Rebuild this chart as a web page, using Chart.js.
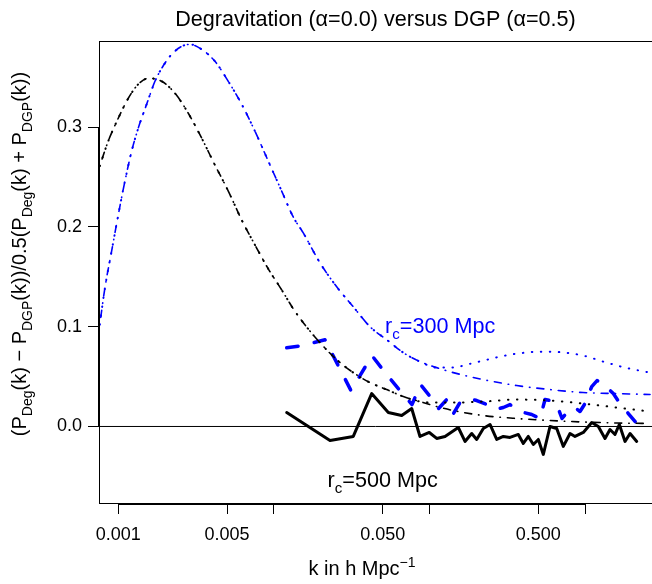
<!DOCTYPE html>
<html>
<head>
<meta charset="utf-8">
<script src="https://cdn.jsdelivr.net/npm/chart.js@4.4.0/dist/chart.umd.min.js"></script>
<style>
  html, body { margin: 0; padding: 0; background: #fff; overflow: hidden; }
  canvas { display: block; }
</style>
</head>
<body>
<canvas id="powerChart" width="652" height="584"></canvas>
<script>
// k grid (h/Mpc) of the smooth linear-theory curves
var kDeg = [0.00076, 0.000862, 0.001, 0.00116, 0.001344, 0.001559, 0.001901, 0.002314, 0.002818, 0.003436, 0.004183,
    0.005093, 0.00621, 0.007558, 0.009204, 0.01122, 0.01332, 0.01545, 0.01979, 0.02533, 0.03237, 0.04146, 0.05309,
    0.06786, 0.08688, 0.1112, 0.1422, 0.2217, 0.3634, 0.5948, 0.9694, 1.596, 2.613];
var degDashDot = [0.261, 0.286, 0.309, 0.329, 0.343, 0.349, 0.346, 0.334, 0.314, 0.289, 0.262,
    0.236, 0.207, 0.182, 0.158, 0.137, 0.118, 0.104, 0.084, 0.067, 0.054, 0.044, 0.037,
    0.030, 0.025, 0.020, 0.016, 0.011, 0.008, 0.006, 0.0045, 0.0035, 0.003];
var degDotted = [0.261, 0.286, 0.309, 0.329, 0.343, 0.349, 0.346, 0.334, 0.314, 0.289, 0.262,
    0.236, 0.207, 0.182, 0.158, 0.137, 0.118, 0.104, 0.084, 0.067, 0.054, 0.044, 0.037,
    0.030, 0.025, 0.024, 0.024, 0.025, 0.027, 0.026, 0.023, 0.019, 0.015];

var kDgp = [0.00076, 0.000821, 0.000907, 0.001, 0.001104, 0.001219, 0.001344, 0.001522, 0.001721, 0.001901, 0.002204,
    0.002556, 0.002889, 0.003436, 0.004183, 0.005093, 0.00621, 0.007558, 0.009204, 0.01122, 0.01332, 0.01545,
    0.01979, 0.02533, 0.03237, 0.04146, 0.05309, 0.06786, 0.08688, 0.1112, 0.1422, 0.2217, 0.3634, 0.5948,
    0.9694, 1.596, 2.613];
var dgpDashDot = [0.102, 0.139, 0.176, 0.212, 0.246, 0.276, 0.299, 0.323, 0.346, 0.359, 0.373,
    0.381, 0.383, 0.378, 0.366, 0.346, 0.323, 0.296, 0.266, 0.236, 0.210, 0.194,
    0.164, 0.140, 0.120, 0.100, 0.087, 0.074, 0.065, 0.059, 0.054, 0.047, 0.041, 0.037,
    0.034, 0.033, 0.032];
var kDgpDot = [0.00076, 0.000821, 0.000907, 0.001, 0.001104, 0.001219, 0.001344, 0.001522, 0.001721, 0.001901, 0.002204,
    0.002556, 0.002889, 0.003436, 0.004183, 0.005093, 0.00621, 0.007558, 0.009204, 0.01122, 0.01332, 0.01545,
    0.01979, 0.02533, 0.03237, 0.04146, 0.05309, 0.06786, 0.08688, 0.1112, 0.1422, 0.1734, 0.2217, 0.2838,
    0.3634, 0.5129, 0.6899, 0.9736, 1.376, 1.851, 2.613];
var dgpDotted = [0.102, 0.139, 0.176, 0.212, 0.246, 0.276, 0.299, 0.323, 0.346, 0.359, 0.373,
    0.381, 0.383, 0.378, 0.366, 0.346, 0.323, 0.296, 0.266, 0.236, 0.210, 0.194,
    0.164, 0.140, 0.120, 0.100, 0.087, 0.074, 0.065, 0.059, 0.059, 0.062, 0.066, 0.070,
    0.073, 0.075, 0.0745, 0.071, 0.064, 0.0586, 0.054];

// simulation results, r_c = 300 Mpc (blue dashed)
var kRc300 = [0.01209, 0.01509, 0.0213, 0.0313, 0.0427, 0.05436, 0.06627, 0.0772, 0.08752, 0.0997, 0.1143, 0.129,
    0.1426, 0.157, 0.1776, 0.2011, 0.2331, 0.2636, 0.2981, 0.3291, 0.3634, 0.4048, 0.4538, 0.5131, 0.5525, 0.5948,
    0.6569, 0.7104, 0.7998, 0.874, 0.9272, 0.9984, 1.103, 1.193, 1.303, 1.518, 1.676, 1.895, 2.146];
var rc300 = [0.079, 0.081, 0.087, 0.036, 0.071, 0.050, 0.034, 0.022, 0.042, 0.031, 0.018, 0.027,
    0.013, 0.024, 0.028, 0.026, 0.022, 0.017, 0.019, 0.022, 0.017, 0.014, 0.012, 0.008, 0.027, 0.026,
    0.022, 0.008, 0.018, 0.018, 0.015, 0.023, 0.040, 0.046, 0.043, 0.033, 0.023, 0.013, 0.003];

// simulation results, r_c = 500 Mpc (black solid)
var kRc500 = [0.01209, 0.02294, 0.03237, 0.04251, 0.05436, 0.06627, 0.07685, 0.08688, 0.0997, 0.1112, 0.1258,
    0.1531, 0.1691, 0.1867, 0.2011, 0.2217, 0.2448, 0.2703, 0.2981, 0.3291, 0.3722, 0.4006, 0.4315, 0.4648,
    0.5004, 0.5388, 0.5948, 0.6569, 0.7243, 0.7998, 0.8612, 0.9736, 1.103, 1.216, 1.342, 1.445, 1.556, 1.659,
    1.805, 1.944, 2.146];
var rc500 = [0.014, -0.014, -0.010, 0.033, 0.014, 0.011, 0.018, -0.010, -0.006, -0.012, -0.010,
    -0.001, -0.015, -0.007, -0.013, -0.002, 0.002, -0.013, -0.010, -0.011, -0.008, -0.017, -0.010, -0.018,
    -0.013, -0.028, 0.000, -0.002, -0.020, -0.007, -0.010, -0.006, 0.004, 0.000, -0.012, -0.003, -0.008, 0.002,
    -0.015, -0.007, -0.015];

// axes
var xMin = 0.000752, xMax = 2.69;
var yMin = -0.0767, yMax = 0.3864;
var xTickVals = [0.001, 0.005, 0.01, 0.05, 0.1, 0.5, 1];
var xTickText = ['0.001', '0.005', '', '0.050', '', '0.500', ''];
var yTickVals = [0, 0.1, 0.2, 0.3];
var yTickText = ['0.0', '0.1', '0.2', '0.3'];

// texts ([string, 0 normal / 1 subscript / 2 superscript])
var titleText = 'Degravitation (\u03b1=0.0) versus DGP (\u03b1=0.5)';
var xLabelParts = [['k in h Mpc', 0], ['\u22121', 2]];
var yLabelParts = [['(P', 0], ['Deg', 1], ['(k) \u2212 P', 0], ['DGP', 1], ['(k))/0.5(P', 0], ['Deg', 1],
    ['(k) + P', 0], ['DGP', 1], ['(k))', 0]];
var label300 = [['r', 0], ['c', 1], ['=300 Mpc', 0]];
var label500 = [['r', 0], ['c', 1], ['=500 Mpc', 0]];

var FONT = "'Liberation Sans', Arial, Helvetica, sans-serif";

function pts(ks, vs) {
    return ks.map(function(k, i) { return {x: k, y: vs[i]}; });
}

function drawRich(c, parts, x, y, size, align) {
    var w = 0;
    parts.forEach(function(p) {
        c.font = (p[1] === 0 ? size : size * 0.7) + 'px ' + FONT;
        w += c.measureText(p[0]).width;
    });
    var cx = align === 'center' ? x - w / 2 : x;
    c.textAlign = 'left';
    c.textBaseline = 'alphabetic';
    parts.forEach(function(p) {
        var s = p[1] === 0 ? size : size * 0.7;
        var dy = p[1] === 1 ? size * 0.28 : (p[1] === 2 ? -size * 0.42 : 0);
        c.font = s + 'px ' + FONT;
        c.fillText(p[0], cx, y + dy);
        cx += c.measureText(p[0]).width;
    });
}

// box, titles and the r_c notes
var decor = {
    id: 'decor',
    afterDraw: function(chart) {
        var c = chart.ctx, a = chart.chartArea;
        var sx = chart.scales.x, sy = chart.scales.y;
        c.save();
        c.strokeStyle = '#000';
        c.lineWidth = 1;
        c.strokeRect(a.left + 0.5, a.top + 0.5, a.right - a.left + 10, a.bottom - a.top);
        // axis lines between first and last tick
        c.beginPath();
        c.moveTo(a.left - 0.5, sy.getPixelForValue(0));
        c.lineTo(a.left - 0.5, sy.getPixelForValue(0.3));
        c.moveTo(sx.getPixelForValue(0.001), a.bottom + 1.5);
        c.lineTo(sx.getPixelForValue(1), a.bottom + 1.5);
        c.stroke();

        c.fillStyle = '#000';
        c.font = '21.6px ' + FONT;
        c.textAlign = 'center';
        c.textBaseline = 'alphabetic';
        c.fillText(titleText, (a.left + a.right) / 2, 26);

        drawRich(c, xLabelParts, 362, 575, 20, 'center');

        c.save();
        c.translate(26, 254);
        c.rotate(-Math.PI / 2);
        drawRich(c, yLabelParts, 0, 0, 20, 'center');
        c.restore();

        c.fillStyle = '#0000ff';
        drawRich(c, label300, sx.getPixelForValue(0.117), sy.getPixelForValue(0.101) + 7.7, 21.6, 'center');
        c.fillStyle = '#000';
        drawRich(c, label500, sx.getPixelForValue(0.05), sy.getPixelForValue(-0.053) + 7.7, 21.6, 'center');
        c.restore();
    }
};

var dotDash = [0.5, 7, 7, 7];
var dotted = [0.5, 8.5];

var ctx = document.getElementById('powerChart').getContext('2d');
var chart = new Chart(ctx, {
    type: 'line',
    data: {
        datasets: [{
            label: 'Degravitation linear',
            data: pts(kDeg, degDashDot),
            borderColor: '#000', borderWidth: 1.6, borderDash: dotDash, borderCapStyle: 'round',
            cubicInterpolationMode: 'monotone'
        }, {
            label: 'Degravitation linear 2',
            data: pts(kDeg, degDotted),
            borderColor: '#000', borderWidth: 2, borderDash: dotted, borderCapStyle: 'round',
            cubicInterpolationMode: 'monotone'
        }, {
            label: 'DGP linear',
            data: pts(kDgp, dgpDashDot),
            borderColor: '#0000ff', borderWidth: 1.6, borderDash: dotDash, borderCapStyle: 'round',
            cubicInterpolationMode: 'monotone'
        }, {
            label: 'DGP linear 2',
            data: pts(kDgpDot, dgpDotted),
            borderColor: '#0000ff', borderWidth: 2, borderDash: dotted, borderCapStyle: 'round',
            cubicInterpolationMode: 'monotone'
        }, {
            label: 'r_c=300 Mpc',
            data: pts(kRc300, rc300),
            borderColor: '#0000ff', borderWidth: 3.5, borderDash: [11.5, 16.5],
            borderCapStyle: 'round', borderJoinStyle: 'round'
        }, {
            label: 'r_c=500 Mpc',
            data: pts(kRc500, rc500),
            borderColor: '#000', borderWidth: 3,
            borderCapStyle: 'round', borderJoinStyle: 'round'
        }, {
            label: 'zero',
            data: [{x: xMin, y: 0}, {x: xMax, y: 0}],
            borderColor: '#000', borderWidth: 1
        }]
    },
    options: {
        responsive: false,
        animation: false,
        devicePixelRatio: 1,
        layout: { padding: { top: 41, right: 0, bottom: 0, left: 0 } },
        elements: { point: { radius: 0 }, line: { tension: 0 } },
        plugins: { legend: { display: false }, title: { display: false }, tooltip: { enabled: false } },
        scales: {
            x: {
                type: 'logarithmic',
                min: xMin,
                max: xMax,
                afterBuildTicks: function(s) { s.ticks = xTickVals.map(function(v) { return {value: v}; }); },
                afterFit: function(s) { s.height = 81; },
                grid: { drawOnChartArea: false, drawTicks: true, tickLength: 11, color: '#000', lineWidth: 1 },
                border: { display: false },
                ticks: {
                    autoSkip: false, maxRotation: 0, minRotation: 0, padding: 10, color: '#000',
                    font: { family: FONT, size: 18 },
                    callback: function(v, i) { return xTickText[i]; }
                }
            },
            y: {
                min: yMin,
                max: yMax,
                afterBuildTicks: function(s) { s.ticks = yTickVals.map(function(v) { return {value: v}; }); },
                afterFit: function(s) { s.width = 99; },
                grid: { drawOnChartArea: false, drawTicks: true, tickLength: 11, color: '#000', lineWidth: 1 },
                border: { display: false },
                ticks: {
                    autoSkip: false, padding: 6, color: '#000',
                    font: { family: FONT, size: 18 },
                    callback: function(v, i) { return yTickText[i]; }
                }
            }
        }
    },
    plugins: [decor]
});
</script>
</body>
</html>
